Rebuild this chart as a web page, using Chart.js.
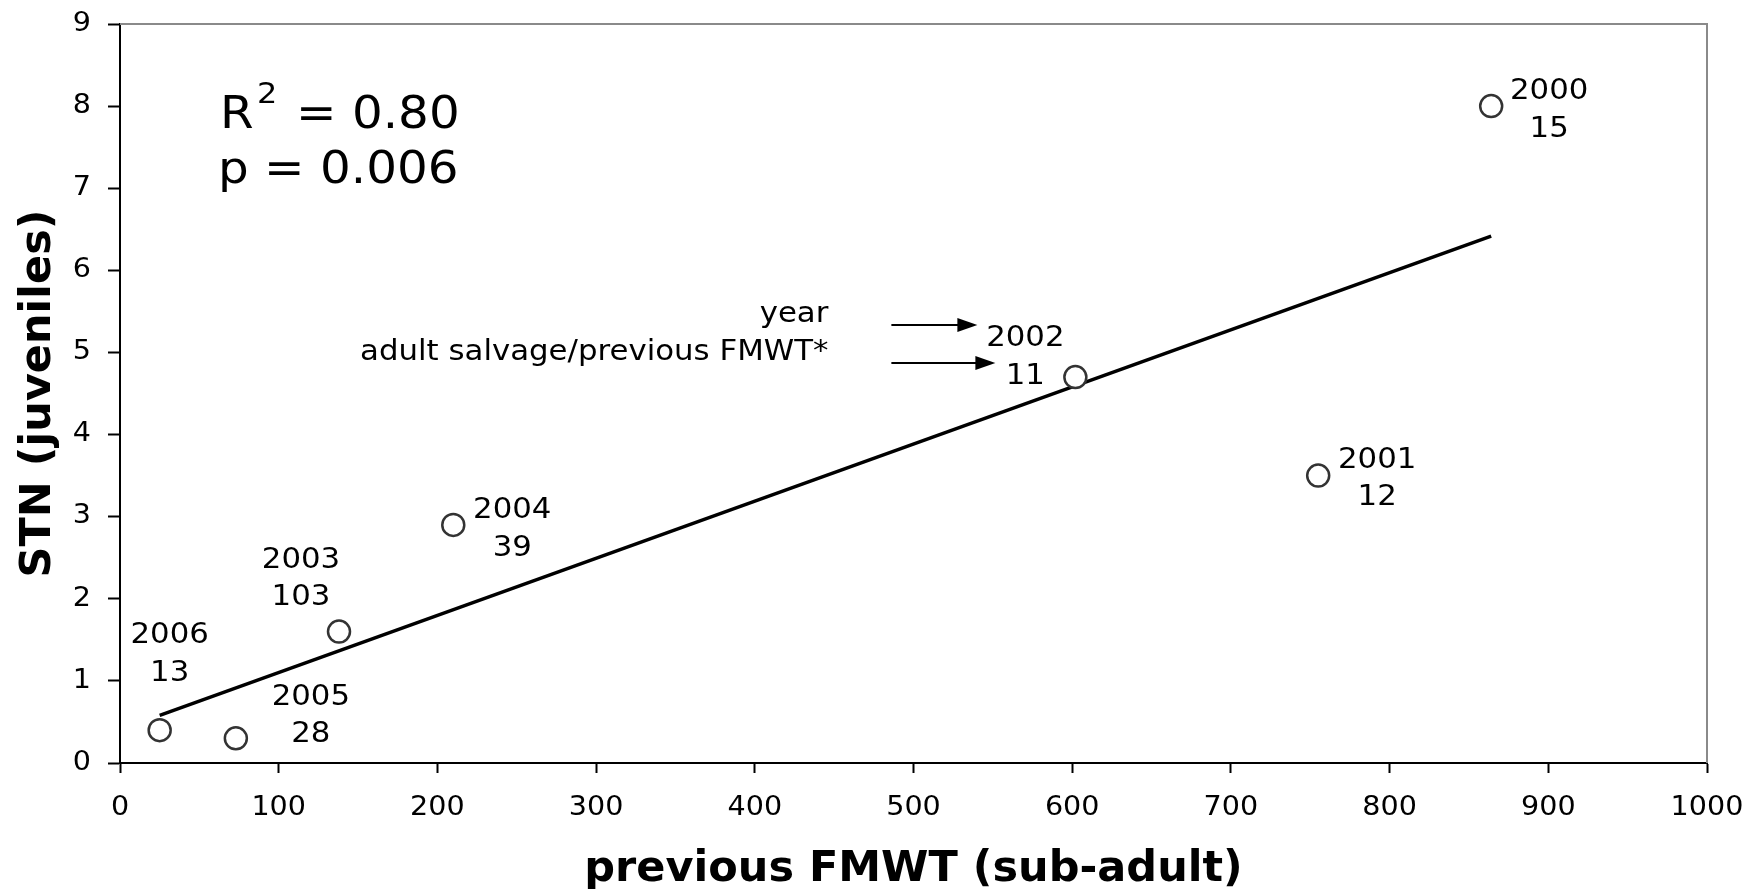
<!DOCTYPE html>
<html>
<head>
<meta charset="utf-8">
<title>STN juveniles vs previous FMWT</title>
<script src="https://cdn.jsdelivr.net/npm/chart.js@4.4.1/dist/chart.umd.min.js"></script>
<style>
  html, body { margin: 0; padding: 0; background: #ffffff; }
  canvas { display: block; }
</style>
</head>
<body>
<canvas id="chart" width="1749" height="889"></canvas>
<script>
// ---- data ---------------------------------------------------------------
const years          = ['2000', '2001', '2002', '2003', '2004', '2005', '2006'];
const fmwtPrevious   = [864, 755, 602, 138, 210, 73, 25];     // previous FMWT (sub-adult)
const stnJuveniles   = [8.0, 3.5, 4.7, 1.6, 2.9, 0.3, 0.4];   // STN (juveniles)
const salvageRatio   = [15, 12, 11, 103, 39, 28, 13];         // adult salvage / previous FMWT
const xTickValues    = [0, 100, 200, 300, 400, 500, 600, 700, 800, 900, 1000];
const yTickValues    = [0, 1, 2, 3, 4, 5, 6, 7, 8, 9];
const statsText      = { r2: '0.80', p: '0.006' };
const keyLines       = ['year', 'adult salvage/previous FMWT*'];

// ---- label placement (pixel offsets of each two-line label from its point)
const labelOffsets = [[58, -17], [59, -18], [-50, -41], [-38, -74], [59, -17], [75, -44], [10, -97]];
const LABEL_LINE_GAP = 37.5;
const KEY_POINT = 2;   // the key arrows point at this point's label

// regular text in this figure is set a little wide
const TEXT_STRETCH = 1.1;
const baseFillText = CanvasRenderingContext2D.prototype.fillText;
CanvasRenderingContext2D.prototype.fillText = function (text, x, y, maxWidth) {
  const draw = () => (maxWidth === undefined
    ? baseFillText.call(this, text, x, y)
    : baseFillText.call(this, text, x, y, maxWidth));
  if (/bold/.test(this.font)) return draw();
  const m = this.getTransform();
  const p = m.transformPoint(new DOMPoint(x, y));
  this.save();
  this.setTransform(new DOMMatrix().translate(p.x, p.y).scale(TEXT_STRETCH, 1).translate(-p.x, -p.y).multiply(m));
  draw();
  this.restore();
};

// least-squares trend line through the points
function leastSquares(xs, ys) {
  const n = xs.length;
  const mx = xs.reduce((a, b) => a + b, 0) / n;
  const my = ys.reduce((a, b) => a + b, 0) / n;
  let sxy = 0, sxx = 0;
  for (let i = 0; i < n; i++) {
    sxy += (xs[i] - mx) * (ys[i] - my);
    sxx += (xs[i] - mx) * (xs[i] - mx);
  }
  const slope = sxy / sxx;
  return { slope, intercept: my - slope * mx };
}
const fit = leastSquares(fmwtPrevious, stnJuveniles);
const xLo = Math.min(...fmwtPrevious);
const xHi = Math.max(...fmwtPrevious);
const trendPoints = [xLo, xHi].map(v => ({ x: v, y: fit.intercept + fit.slope * v }));

const FONT = "'DejaVu Sans', 'Verdana', sans-serif";
Chart.defaults.font.family = FONT;
Chart.defaults.color = '#000';

// gray frame on the top and right of the plot area
const framePlugin = {
  id: 'plotFrame',
  beforeDatasetsDraw(chart) {
    const { ctx, chartArea: a } = chart;
    ctx.save();
    ctx.strokeStyle = '#8a8a8a';
    ctx.lineWidth = 2;
    ctx.beginPath();
    ctx.moveTo(a.left, a.top);
    ctx.lineTo(a.right, a.top);
    ctx.lineTo(a.right, a.bottom);
    ctx.stroke();
    ctx.restore();
  }
};

function arrow(ctx, x0, x1, y) {
  const head = 20, half = 7;
  ctx.beginPath();
  ctx.moveTo(x0, y);
  ctx.lineTo(x1 - head + 1, y);
  ctx.stroke();
  ctx.beginPath();
  ctx.moveTo(x1, y);
  ctx.lineTo(x1 - head, y - half);
  ctx.lineTo(x1 - head, y + half);
  ctx.closePath();
  ctx.fill();
}

// point labels, key and statistics
const annotationPlugin = {
  id: 'annotations',
  afterDatasetsDraw(chart) {
    const { ctx, chartArea: a, scales: { x, y } } = chart;
    ctx.save();
    ctx.fillStyle = '#000';
    ctx.strokeStyle = '#000';

    // year / ratio beside each point
    const lblSize = 28;
    const drop = 0.364 * lblSize;
    ctx.font = `${lblSize}px ${FONT}`;
    ctx.textAlign = 'center';
    ctx.textBaseline = 'alphabetic';
    years.forEach((yr, i) => {
      const px = x.getPixelForValue(fmwtPrevious[i]);
      const py = y.getPixelForValue(stnJuveniles[i]);
      const [dx, dy] = labelOffsets[i];
      ctx.fillText(yr, px + dx, py + dy + drop);
      ctx.fillText(String(salvageRatio[i]), px + dx, py + dy + LABEL_LINE_GAP + drop);
    });

    // key explaining the two label lines
    const kx = x.getPixelForValue(fmwtPrevious[KEY_POINT]);
    const ky = y.getPixelForValue(stnJuveniles[KEY_POINT]);
    ctx.font = `28px ${FONT}`;
    ctx.textAlign = 'right';
    ctx.fillText(keyLines[0], kx - 247, ky - 55);
    ctx.fillText(keyLines[1], kx - 247, ky - 17);
    ctx.lineWidth = 2;
    arrow(ctx, kx - 184, kx - 98, ky - 52);
    arrow(ctx, kx - 184, kx - 80, ky - 14);

    // regression statistics
    ctx.textAlign = 'left';
    ctx.font = `44px ${FONT}`;
    ctx.fillText('R', a.left + 100, a.top + 104);
    ctx.fillText('= ' + statsText.r2, a.left + 176, a.top + 104);
    ctx.fillText('p = ' + statsText.p, a.left + 98, a.top + 159);
    ctx.font = `29px ${FONT}`;
    ctx.fillText('2', a.left + 137, a.top + 79);
    ctx.restore();
  }
};

new Chart(document.getElementById('chart'), {
  type: 'scatter',
  data: {
    datasets: [
      {
        label: 'STN',
        data: fmwtPrevious.map((v, i) => ({ x: v, y: stnJuveniles[i] })),
        pointStyle: 'circle',
        pointRadius: 11,
        pointBorderWidth: 2.5,
        pointBorderColor: '#333333',
        pointBackgroundColor: '#ffffff',
        order: 1
      },
      {
        type: 'line',
        label: 'trend',
        data: trendPoints,
        borderColor: '#000000',
        borderWidth: 3.5,
        pointRadius: 0,
        fill: false,
        order: 2
      }
    ]
  },
  options: {
    responsive: false,
    devicePixelRatio: 1,
    animation: false,
    events: [],
    layout: { padding: { top: 24, right: 42, bottom: 0, left: 0 } },
    plugins: { legend: { display: false }, tooltip: { enabled: false } },
    scales: {
      x: {
        type: 'linear',
        min: xTickValues[0],
        max: xTickValues[xTickValues.length - 1],
        afterBuildTicks: s => { s.ticks = xTickValues.map(v => ({ value: v })); },
        afterFit: s => { s.height = 126; s.paddingLeft = 0; s.paddingRight = 0; },
        grid: { drawOnChartArea: false, drawTicks: true, tickLength: 10, tickWidth: 2, tickColor: '#000' },
        border: { display: true, color: '#000', width: 2 },
        ticks: { font: { size: 26 }, color: '#000', padding: 20, maxRotation: 0, autoSkip: false,
                 callback: v => String(v) },
        title: {
          display: true,
          text: 'previous FMWT (sub-adult)',
          font: { size: 43, weight: 'bold', lineHeight: 1 },
          color: '#000',
          padding: { top: 0, bottom: -2 }
        }
      },
      y: {
        type: 'linear',
        min: yTickValues[0],
        max: yTickValues[yTickValues.length - 1],
        afterBuildTicks: s => { s.ticks = yTickValues.map(v => ({ value: v })); },
        afterFit: s => { s.width = 120; s.paddingTop = 0; s.paddingBottom = 0; },
        grid: { drawOnChartArea: false, drawTicks: true, tickLength: 12, tickWidth: 2, tickColor: '#000' },
        border: { display: true, color: '#000', width: 2 },
        ticks: { font: { size: 26 }, color: '#000', padding: 17, autoSkip: false,
                 callback: v => String(v) },
        title: {
          display: true,
          text: 'STN (juveniles)',
          font: { size: 43, weight: 'bold', lineHeight: 1 },
          color: '#000',
          padding: { top: 17.5, bottom: 0 }
        }
      }
    }
  },
  plugins: [framePlugin, annotationPlugin]
});
</script>
</body>
</html>
